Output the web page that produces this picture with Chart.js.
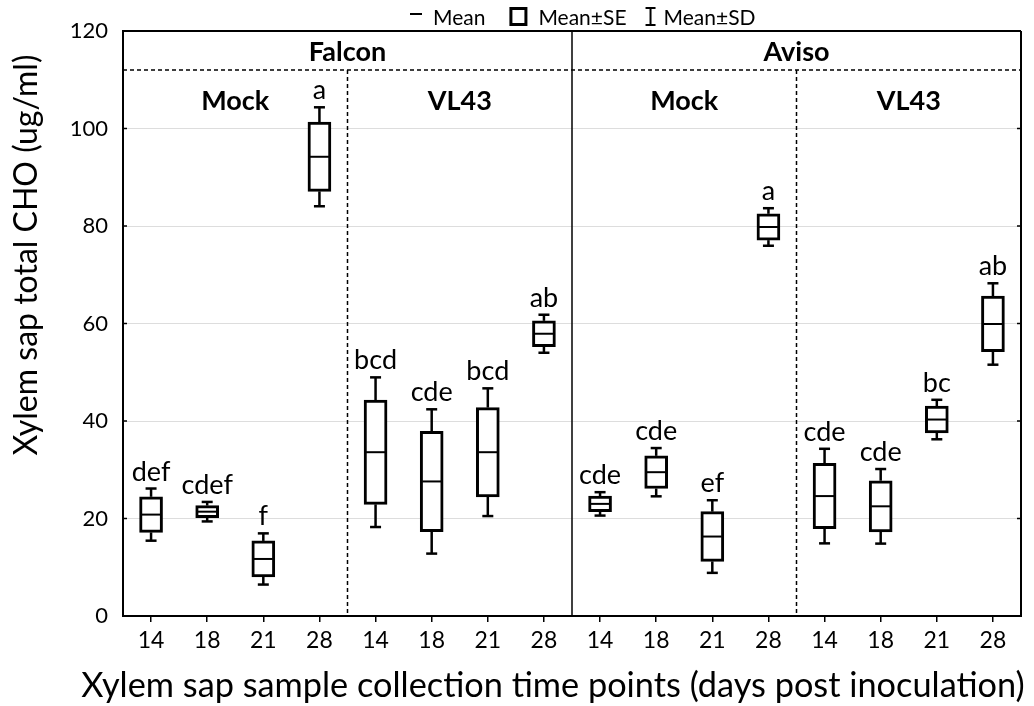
<!DOCTYPE html>
<html>
<head>
<meta charset="utf-8">
<script src="https://cdn.jsdelivr.net/npm/chart.js@4.4.1/dist/chart.umd.min.js"></script>
<style>
  html, body { margin: 0; padding: 0; background: #fff; }
</style>
</head>
<body>
<canvas id="chart" width="1034" height="706"></canvas>
<script>
// Box plot: mean line, mean±SE box, mean±SD whiskers

// categories (days post inoculation), left to right
const days = ['14', '18', '21', '28', '14', '18', '21', '28', '14', '18', '21', '28', '14', '18', '21', '28'];
const cultivars = ['Falcon', 'Aviso'];
const treatments = ['Mock', 'VL43', 'Mock', 'VL43'];

// values (ug/ml)
const means = [20.8, 21.4, 11.7, 94.2, 33.6, 27.6, 33.6, 57.9, 23.0, 29.5, 16.3, 79.8, 24.6, 22.5, 40.3, 59.9];
const se = [3.65, 1.25, 3.7, 7.1, 10.7, 10.3, 9.15, 2.65, 1.6, 3.35, 5.1, 2.7, 6.7, 5.25, 2.75, 5.7];
const sd = [5.35, 2.0, 5.25, 10.15, 15.35, 14.8, 13.1, 3.9, 2.4, 4.95, 7.45, 3.85, 9.7, 7.65, 4.05, 8.35];
const letters = ['def', 'cdef', 'f', 'a', 'bcd', 'cde', 'bcd', 'ab', 'cde', 'cde', 'ef', 'a', 'cde', 'cde', 'bc', 'ab'];

const yTicks = [0, 20, 40, 60, 80, 100, 120];
const headerLine = 112; // dashed line under the cultivar names

const FONT = 'Lato, Carlito, Calibri, sans-serif';
Chart.defaults.font.family = FONT;
Chart.defaults.color = '#000';

// SE box as floating bar
const seRanges = means.map((m, i) => [m - se[i], m + se[i]]);

function line(ctx, x1, y1, x2, y2) {
    ctx.beginPath();
    ctx.moveTo(x1, y1);
    ctx.lineTo(x2, y2);
    ctx.stroke();
}

const boxExtras = {
    id: 'boxExtras',
    beforeDatasetsDraw(chart) {
        const { ctx, chartArea: a, scales: { x, y } } = chart;
        const between = (i) => (x.getPixelForValue(i) + x.getPixelForValue(i + 1)) / 2;
        const yHead = y.getPixelForValue(headerLine);
        ctx.save();
        ctx.strokeStyle = '#000';
        // cultivar split
        ctx.lineWidth = 1.5;
        line(ctx, between(7), a.top, between(7), a.bottom);
        // dashed separators
        ctx.setLineDash([4, 3]);
        line(ctx, a.left, yHead, a.right, yHead);
        line(ctx, between(3), yHead, between(3), a.bottom);
        line(ctx, between(11), yHead, between(11), a.bottom);
        ctx.restore();
    },
    afterDatasetsDraw(chart) {
        const { ctx, scales: { x, y } } = chart;
        const half = 11.5, cap = 5.5;
        ctx.save();
        ctx.strokeStyle = '#000';
        ctx.fillStyle = '#000';
        ctx.font = '27px ' + FONT;
        ctx.textAlign = 'center';
        ctx.textBaseline = 'alphabetic';
        means.forEach((m, i) => {
            const px = x.getPixelForValue(i);
            const seTop = y.getPixelForValue(m + se[i]);
            const seBot = y.getPixelForValue(m - se[i]);
            const sdTop = y.getPixelForValue(m + sd[i]);
            const sdBot = y.getPixelForValue(m - sd[i]);
            ctx.lineWidth = 2.5;
            line(ctx, px, seTop, px, sdTop);
            line(ctx, px, seBot, px, sdBot);
            line(ctx, px - cap, sdTop, px + cap, sdTop);
            line(ctx, px - cap, sdBot, px + cap, sdBot);
            ctx.lineWidth = 2;
            const my = y.getPixelForValue(m);
            line(ctx, px - half + 2, my, px + half - 2, my);
            ctx.fillText(letters[i], px, sdTop - 8);
        });
        ctx.restore();
    },
    afterDraw(chart) {
        const { ctx, chartArea: a, scales: { x, y } } = chart;
        ctx.save();
        ctx.strokeStyle = '#000';
        ctx.fillStyle = '#000';

        // frame top and right
        ctx.lineWidth = 2;
        line(ctx, a.left - 1, a.top, a.right, a.top);
        line(ctx, a.right, a.top, a.right, a.bottom + 1);
        // inside ticks on left and right
        ctx.lineWidth = 1.5;
        yTicks.forEach(v => {
            const py = y.getPixelForValue(v);
            line(ctx, a.left, py, a.left + 4, py);
            line(ctx, a.right - 4, py, a.right, py);
        });

        // cultivar and treatment headers
        ctx.textAlign = 'center';
        ctx.font = 'bold 27px ' + FONT;
        cultivars.forEach((c, k) => {
            const cx = (x.getPixelForValue(k * 8) + x.getPixelForValue(k * 8 + 7)) / 2;
            ctx.fillText(c, cx, a.top + 30);
        });
        treatments.forEach((t, k) => {
            const cx = (x.getPixelForValue(k * 4) + x.getPixelForValue(k * 4 + 3)) / 2;
            ctx.fillText(t, cx, a.top + 79);
        });

        // axis titles
        ctx.font = '34.3px ' + FONT;
        ctx.fillText(x.options.title.text, 553, 697);
        ctx.font = '32px ' + FONT;
        ctx.save();
        ctx.translate(37, a.top + 224);
        ctx.rotate(-Math.PI / 2);
        ctx.fillText(y.options.title.text, 0, 0);
        ctx.restore();

        // legend
        ctx.font = '21px ' + FONT;
        ctx.textAlign = 'left';
        let lx = 410;
        const base = 25;
        ctx.lineWidth = 2;
        line(ctx, lx, 14, lx + 12, 14);
        lx += 23;
        ctx.fillText('Mean', lx, base);
        lx += ctx.measureText('Mean').width + 24;
        ctx.lineWidth = 3;
        ctx.strokeRect(lx + 1.5, 8.5, 15, 16);
        lx += 29;
        ctx.fillText('Mean±SE', lx, base);
        lx += ctx.measureText('Mean±SE').width + 19;
        ctx.lineWidth = 2;
        line(ctx, lx + 5, 8, lx + 5, 25);
        line(ctx, lx, 8, lx + 10, 8);
        line(ctx, lx, 25, lx + 10, 25);
        lx += 18;
        ctx.fillText('Mean±SD', lx, base);
        ctx.restore();
    }
};

new Chart(document.getElementById('chart'), {
    type: 'bar',
    data: {
        labels: days,
        datasets: [{
            label: 'Mean±SE',
            data: seRanges,
            backgroundColor: '#fff',
            borderColor: '#000',
            borderWidth: 3,
            borderSkipped: false,
            barThickness: 23
        }]
    },
    options: {
        responsive: false,
        animation: false,
        layout: { padding: { top: 31, right: 13, left: 0, bottom: 0 } },
        plugins: {
            legend: { display: false },
            tooltip: { enabled: false }
        },
        scales: {
            x: {
                offset: true,
                afterFit: (s) => { s.height = 90; },
                grid: { offset: false, drawOnChartArea: false, drawTicks: true, tickLength: 6, color: '#000', lineWidth: 1.5 },
                border: { display: true, color: '#000', width: 2 },
                ticks: { font: { size: 23 }, padding: 5, color: '#000' },
                title: { display: false, text: 'Xylem sap sample collection time points (days post inoculation)' }
            },
            y: {
                min: 0,
                max: 120,
                afterFit: (s) => { s.width = 123; },
                afterBuildTicks: (s) => { s.ticks = yTicks.map(v => ({ value: v })); },
                grid: { color: '#dddddd', lineWidth: 1, drawTicks: false },
                border: { display: true, color: '#000', width: 2 },
                ticks: { font: { size: 22 }, padding: 15, color: '#000' },
                title: { display: false, text: 'Xylem sap total CHO (ug/ml)' }
            }
        }
    },
    plugins: [boxExtras]
});
</script>
</body>
</html>
